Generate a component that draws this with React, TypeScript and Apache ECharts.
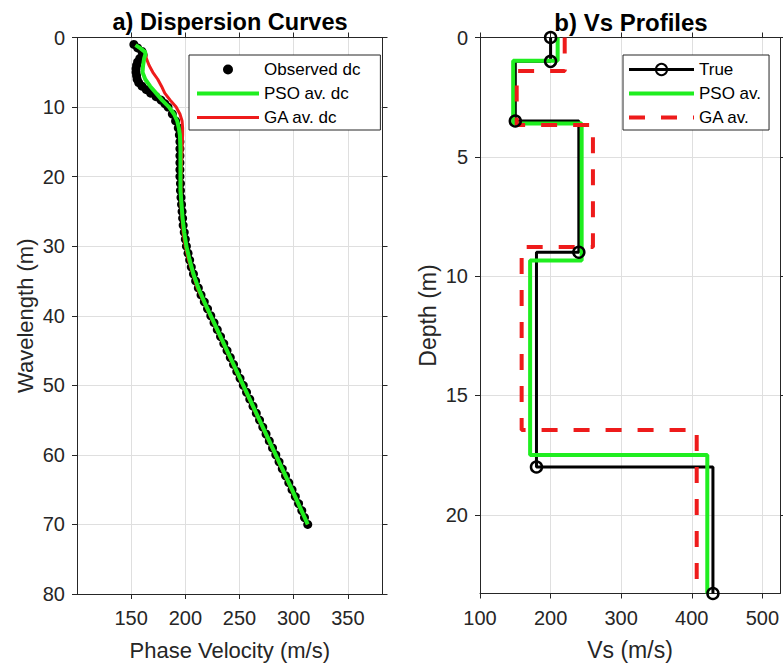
import React, { useEffect, useRef } from 'react';
import * as echarts from 'echarts';

// ---------- a) Dispersion curves ----------
const obsWavelength = [1, 1.5, 2, 2.5, 3, 3.5, 4, 4.5, 5, 5.5, 6, 6.5, 7, 7.5, 8, 8.5, 9, 9.5, 10, 11, 12, 13, 14, 15, 16, 17, 18, 19, 20, 21, 22, 23, 24, 25, 26, 27, 28, 29, 30, 31, 32, 33, 34, 35, 36, 37, 38, 39, 40, 41, 42, 43, 44, 45, 46, 47, 48, 49, 50, 51, 52, 53, 54, 55, 56, 57, 58, 59, 60, 61, 62, 63, 64, 65, 66, 67, 68, 69, 70];
const obsVelocity = [152.5, 156, 160, 161, 158, 156, 155, 154.5, 154.5, 155, 155.5, 157, 160, 164, 168, 173, 177.5, 181, 184, 188, 191, 193.5, 194.5, 195, 195, 195, 195, 195, 195, 195.5, 195.5, 196, 196.5, 197, 197.5, 198, 199, 200, 201, 202.5, 204, 205.5, 207.5, 209.5, 212, 214.5, 217.5, 220.5, 223.5, 226.5, 229.5, 232.5, 235.5, 238.5, 241.5, 244.5, 247.5, 250.5, 253.5, 256.5, 259.5, 262.5, 265.5, 268.5, 271.5, 274.5, 277.5, 280.5, 283.5, 286.5, 289.5, 292.5, 295.5, 298.5, 301.5, 304.5, 307.5, 310, 313];

const psoWavelength = [1.1, 1.5, 2.1, 2.5, 3, 4, 5, 6, 7, 8, 9, 10, 11, 12, 13, 14, 16, 18, 20, 22, 24, 26, 28, 30, 32, 34, 36, 38, 40, 42, 44, 46, 48, 50, 55, 60, 65, 70];
const psoVelocity = [154, 158, 163, 163, 162, 161, 160.5, 163, 167.5, 173, 178.5, 185, 189.5, 192.5, 194, 195, 195.5, 195.5, 195.5, 195.5, 196.5, 197.5, 199, 201, 204, 207.5, 212, 217.5, 223.5, 229.5, 235.5, 241.5, 247.5, 253.5, 268.5, 283.5, 298.5, 313];

const gaWavelength = [1.1, 2.1, 3, 4, 5, 6, 7, 8, 9, 10, 11, 12, 13, 14, 16, 20, 24, 28, 30, 32, 36, 40, 45, 50, 60, 70];
const gaVelocity = [154, 163, 164, 166.5, 170, 174.5, 178, 181, 186, 191.5, 195, 197, 197.5, 197.5, 197, 196, 196, 198, 200, 203, 211, 223, 238, 253, 283, 313];

const velocityTicks = [150, 200, 250, 300, 350];

// ---------- b) Vs profiles ----------
const trueVs = [200, 150, 240, 180, 430];
const trueDepth = [0, 1, 3.5, 9, 18, 23.3];
const psoVs = [210, 147, 244, 171, 422];
const psoDepth = [0, 0.97, 3.6, 9.35, 17.5, 23.3];
const gaVs = [220, 152, 260, 159, 407];
const gaDepth = [0, 1.4, 3.67, 8.78, 16.45, 23.3];

const vsTicks = [100, 200, 300, 400, 500];
const depthTicks = [0, 5, 10, 15, 20];

const FONT = "'Liberation Sans', Arial, Helvetica, sans-serif";
const AXIS = '#262626';
const GRIDC = '#dfdfdf';
const GREEN = '#1fee1f';
const RED = '#ee1b1b';

function stairs(vs: number[], depth: number[]) {
  const pts: number[][] = [];
  vs.forEach((v, i) => {
    pts.push([v, depth[i]]);
    pts.push([v, depth[i + 1]]);
  });
  return pts;
}

function baseAxis(extra: any) {
  return {
    type: 'value',
    axisLine: { show: true, onZero: false, lineStyle: { color: AXIS, width: 1 } },
    axisTick: { show: true, length: 5, lineStyle: { color: AXIS, width: 1 } },
    axisLabel: { color: AXIS, fontSize: 20, fontFamily: FONT },
    splitLine: { show: false },
    nameTextStyle: { color: AXIS, fontSize: 22, fontFamily: FONT },
    ...extra,
  };
}

export default function App() {
  const ref = useRef<HTMLDivElement>(null);
  useEffect(() => {
    if (!ref.current) return;
    const chart = echarts.init(ref.current, null, { renderer: 'svg' });

    const obsData = obsWavelength.map((w, i) => [obsVelocity[i], w]);
    const psoData = psoWavelength.map((w, i) => [psoVelocity[i], w]);
    const gaData = gaWavelength.map((w, i) => [gaVelocity[i], w]);

    const trueData = stairs(trueVs, trueDepth).map((p, k) =>
      k === 0 || k % 2 === 1 ? { value: p } : { value: p, symbol: 'none' }
    );

    const legendText = { color: '#000', fontSize: 17, fontFamily: FONT };
    const noSym = { opacity: 0 };

    const option: any = {
      animation: false,
      backgroundColor: '#fff',
      grid: [
        { left: 77, top: 37.5, width: 305.5, height: 556.5, containLabel: false },
        { left: 480, top: 37.5, width: 300, height: 556, containLabel: false },
      ],
      xAxis: [
        baseAxis({
          gridIndex: 0, position: 'bottom', min: 100, max: 382,
          axisTick: { show: true, length: 5, customValues: velocityTicks, lineStyle: { color: AXIS } },
          axisLabel: { color: AXIS, fontSize: 20, fontFamily: FONT, customValues: velocityTicks, margin: 14 },
          splitLine: { show: true, lineStyle: { color: GRIDC, width: 1 } },
          name: 'Phase Velocity (m/s)', nameLocation: 'middle', nameGap: 45,
        }),
        baseAxis({
          gridIndex: 0, position: 'top', min: 100, max: 382,
          axisTick: { show: true, length: 5, customValues: velocityTicks, lineStyle: { color: AXIS } },
          axisLabel: { show: false },
        }),
        baseAxis({
          gridIndex: 1, position: 'bottom', min: 100, max: 525,
          axisTick: { show: true, length: 5, customValues: vsTicks, lineStyle: { color: AXIS } },
          axisLabel: { color: AXIS, fontSize: 20, fontFamily: FONT, customValues: vsTicks, margin: 14 },
          splitLine: { show: true, lineStyle: { color: GRIDC, width: 1 } },
          name: 'Vs (m/s)', nameLocation: 'middle', nameGap: 45,
          nameTextStyle: { color: AXIS, fontSize: 23, fontFamily: FONT },
        }),
        baseAxis({
          gridIndex: 1, position: 'top', min: 100, max: 525,
          axisTick: { show: true, length: 5, customValues: vsTicks, lineStyle: { color: AXIS } },
          axisLabel: { show: false },
        }),
      ],
      yAxis: [
        baseAxis({
          gridIndex: 0, position: 'left', inverse: true, min: 0, max: 80, interval: 10,
          axisLabel: { color: AXIS, fontSize: 20, fontFamily: FONT, margin: 12 },
          splitLine: { show: true, lineStyle: { color: GRIDC, width: 1 } },
          name: 'Wavelength (m)', nameLocation: 'middle', nameGap: 41,
        }),
        baseAxis({
          gridIndex: 0, position: 'right', inverse: true, min: 0, max: 80, interval: 10,
          axisLabel: { show: false },
        }),
        baseAxis({
          gridIndex: 1, position: 'left', inverse: true, min: 0, max: 23.3,
          axisTick: { show: true, length: 5, customValues: depthTicks, lineStyle: { color: AXIS } },
          axisLabel: { color: AXIS, fontSize: 20, fontFamily: FONT, customValues: depthTicks, margin: 12 },
          splitLine: { show: true, lineStyle: { color: GRIDC, width: 1 } },
          name: 'Depth (m)', nameLocation: 'middle', nameGap: 41,
          nameTextStyle: { color: AXIS, fontSize: 23, fontFamily: FONT },
        }),
        baseAxis({
          gridIndex: 1, position: 'right', inverse: true, min: 0, max: 23.3,
          axisTick: { show: true, length: 5, customValues: depthTicks, lineStyle: { color: AXIS } },
          axisLabel: { show: false },
        }),
      ],
      legend: [
        {
          orient: 'vertical', left: 189, top: 55, itemWidth: 62, itemHeight: 14, itemGap: 7,
          padding: [6, 20, 4, 6], backgroundColor: '#fff', borderColor: AXIS, borderWidth: 1,
          borderRadius: 0, selectedMode: false, textStyle: legendText,
          data: [
            { name: 'Observed dc', icon: 'path://M0,0M62,14M26,7a5,5 0 1,0 10,0a5,5 0 1,0 -10,0z' },
            { name: 'PSO av. dc', itemStyle: noSym, lineStyle: { color: GREEN, width: 4 } },
            { name: 'GA av. dc', itemStyle: noSym, lineStyle: { color: RED, width: 3 } },
          ],
        },
        {
          orient: 'vertical', left: 623, top: 55, itemWidth: 65, itemHeight: 14, itemGap: 7,
          padding: [6, 8, 4, 4], backgroundColor: '#fff', borderColor: AXIS, borderWidth: 1,
          borderRadius: 0, selectedMode: false, textStyle: legendText,
          data: [
            { name: 'True', lineStyle: { color: '#000', width: 3 } },
            { name: 'PSO av.', itemStyle: noSym, lineStyle: { color: GREEN, width: 4 } },
            { name: 'GA av.', itemStyle: noSym, lineStyle: { color: RED, width: 4, type: [16, 16] } },
          ],
        },
      ],
      graphic: [
        {
          type: 'text', x: 230, y: 22,
          style: { text: 'a) Dispersion Curves', fill: '#000', font: `bold 23.5px ${FONT}`, align: 'center', verticalAlign: 'middle' },
        },
        {
          type: 'text', x: 631, y: 22,
          style: { text: 'b) Vs Profiles', fill: '#000', font: `bold 24px ${FONT}`, align: 'center', verticalAlign: 'middle' },
        },
      ],
      series: [
        {
          name: 'Observed dc', type: 'scatter', xAxisIndex: 0, yAxisIndex: 0,
          symbol: 'circle', symbolSize: 9, itemStyle: { color: '#000', opacity: 1 }, data: obsData,
        },
        {
          name: 'GA av. dc', type: 'line', xAxisIndex: 0, yAxisIndex: 0, symbol: 'none',
          color: RED, lineStyle: { color: RED, width: 3 }, data: gaData,
        },
        {
          name: 'PSO av. dc', type: 'line', xAxisIndex: 0, yAxisIndex: 0, symbol: 'none',
          color: GREEN, lineStyle: { color: GREEN, width: 4 }, data: psoData,
        },
        {
          name: 'True', type: 'line', xAxisIndex: 2, yAxisIndex: 2,
          symbol: 'circle', symbolSize: 11, showSymbol: true, clip: false,
          itemStyle: { color: 'rgba(0,0,0,0)', borderColor: '#000', borderWidth: 2.5 },
          lineStyle: { color: '#000', width: 3 }, data: trueData,
        },
        {
          name: 'PSO av.', type: 'line', xAxisIndex: 2, yAxisIndex: 2, symbol: 'none',
          color: GREEN, lineStyle: { color: GREEN, width: 4 }, data: stairs(psoVs, psoDepth),
        },
        {
          name: 'GA av.', type: 'line', xAxisIndex: 2, yAxisIndex: 2, symbol: 'none',
          color: RED, lineStyle: { color: RED, width: 4, type: [16, 16] }, data: stairs(gaVs, gaDepth),
        },
      ],
    };
    chart.setOption(option);
    return () => chart.dispose();
  }, []);
  return (
    <div
      ref={ref}
      style={{ position: 'absolute', left: 0, top: 0, width: 783, height: 668, background: '#fff' }}
    />
  );
}
